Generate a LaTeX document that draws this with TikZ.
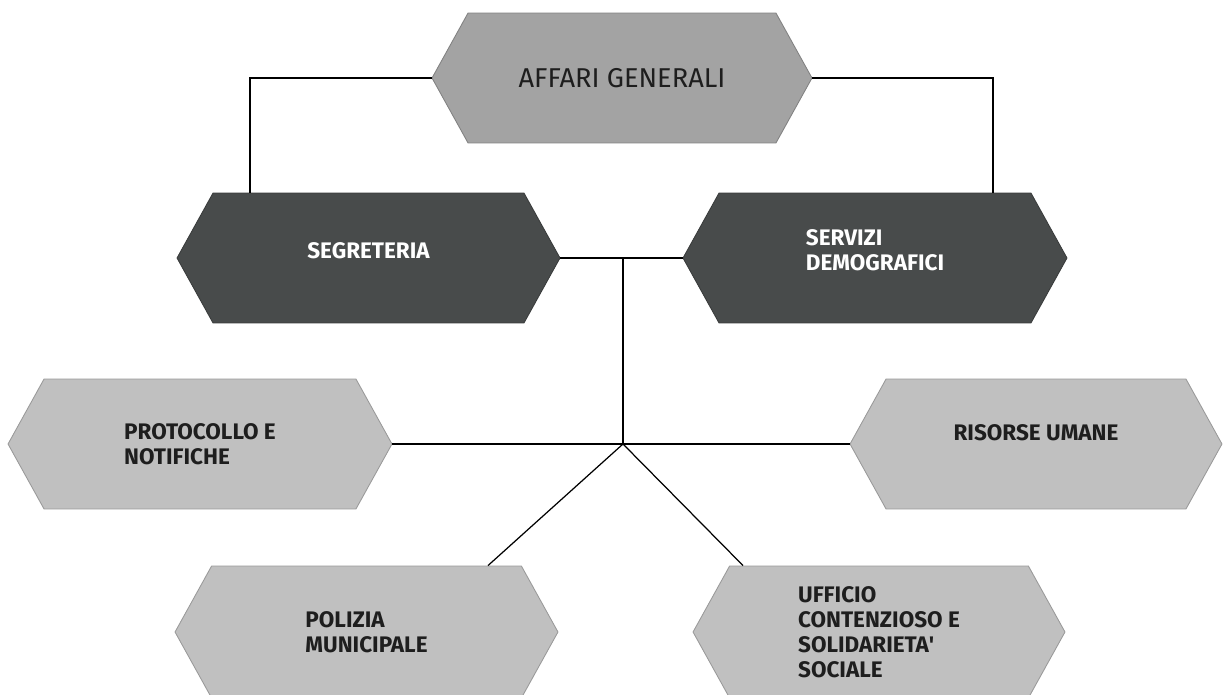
\documentclass[tikz,border=0pt]{standalone}
\usepackage{fontspec}
\setmainfont{Fira Sans}
\usepackage{tikz}
\usetikzlibrary{shapes.symbols}
\definecolor{midgrey}{RGB}{163,163,163}
\definecolor{darkgrey}{RGB}{72,75,75}
\definecolor{lightgrey}{RGB}{192,192,192}
\definecolor{inkgrey}{RGB}{30,30,30}

\begin{document}
\begin{tikzpicture}[x=0.02cm,y=-0.02cm,
    hexa/.style={shape=signal, signal to=east and west, signal pointer angle=122,
      minimum height=2.6cm, inner sep=0pt, align=left, draw=#1!80!black, line width=0.5pt, fill=#1},
    hexa/.default=lightgrey,
    boldtxt/.style={font=\bfseries\fontsize{12.8}{14.2}\selectfont},
    wire/.style={line width=0.7pt, black}]
      \useasboundingbox (0,0) rectangle (1223,695);
      \clip (0,0) rectangle (1223,695);

      %%top
      \node [hexa=midgrey, minimum width=7.6cm, text=inkgrey, font=\fontsize{15.5}{17}\selectfont] (aff) at (622,78) {AFFARI GENERALI};

      %%second row
      \node [hexa=darkgrey, minimum width=7.66cm, text=white, boldtxt, text depth=9pt] (seg) at (368.5,258) {SEGRETERIA};
      \node [hexa=darkgrey, minimum width=7.68cm, text=white, boldtxt, text depth=9pt] (serv) at (875,258) {SERVIZI\\DEMOGRAFICI};

      %%offices
      \node [hexa, minimum width=7.68cm, text=inkgrey, boldtxt] (prot) at (200,444) {PROTOCOLLO E\\NOTIFICHE};
      \node [hexa, minimum width=7.44cm, text=inkgrey, boldtxt, text depth=13pt] (ris) at (1036,444) {RISORSE UMANE};
      \node [hexa, minimum width=7.66cm, minimum height=2.64cm, text=inkgrey, boldtxt] (pol) at (366.5,632) {POLIZIA\\MUNICIPALE};
      \node [hexa, minimum width=7.44cm, minimum height=2.64cm, text=inkgrey, boldtxt] (uff) at (879,632) {UFFICIO\\CONTENZIOSO E\\SOLIDARIETA\textquotesingle\\SOCIALE};

      \coordinate (hub) at (623,444);

      \draw [wire] (aff.west) -| ([xshift=-2.37cm]seg.north);
      \draw [wire] (aff.east) -| ([xshift=2.36cm]serv.north);
      \draw [wire] (seg.east) -- (serv.west);
      \draw [wire] (hub |- seg.east) -- (hub);
      \draw [wire] (prot.east) -- (hub) -- (ris.west);
      \draw [wire] (hub) -- ([xshift=2.43cm]pol.north);
      \draw [wire] (hub) -- ([xshift=-2.72cm]uff.north);

\end{tikzpicture}
\end{document}
